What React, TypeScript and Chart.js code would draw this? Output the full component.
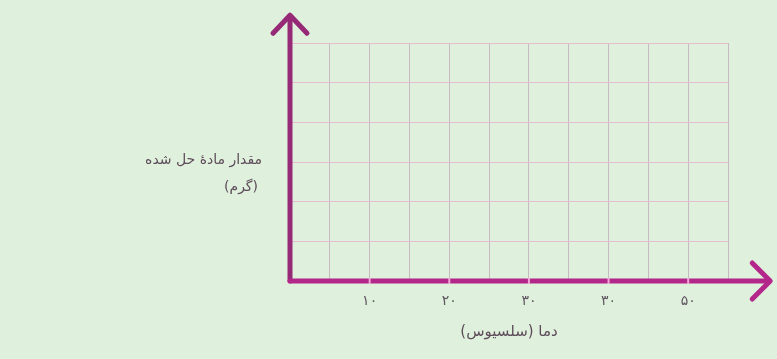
import React, { useEffect, useRef } from "react";
import { Chart, registerables } from "chart.js";

Chart.register(...registerables);

// ---- data ----
const xTickValues = [10, 20, 30, 40, 50];
const xTickLabels = ["۱۰", "۲۰", "۳۰", "۳۰", "۵۰"];
const xMin = 0;
const xMax = 55;
const xStep = 5;
const yMin = 0;
const yMax = 6;
const yStep = 1;
const xTitle = "دما (سلسیوس)";
const yTitleLines = ["مقدار مادهٔ حل شده", "(گرم)"];
const xArrowTip = 60.3;
const yArrowTip = 6.7;

const BG = "#dff0dc";
const FONT = "'DejaVu Sans', sans-serif";

const axesPlugin = {
  id: "arrowAxes",
  afterDraw(chart: any) {
    const { ctx, scales } = chart;
    const xs = scales.x;
    const ys = scales.y;
    const x0 = xs.getPixelForValue(xMin);
    const y0 = ys.getPixelForValue(yMin);
    const xt = xs.getPixelForValue(xArrowTip);
    const yt = ys.getPixelForValue(yArrowTip);
    ctx.save();
    ctx.lineCap = "round";
    ctx.lineJoin = "round";
    ctx.lineWidth = 5;
    // y axis
    ctx.strokeStyle = "#962a76";
    ctx.beginPath();
    ctx.moveTo(x0, y0);
    ctx.lineTo(x0, yt + 1);
    ctx.stroke();
    ctx.beginPath();
    ctx.moveTo(x0 - 17, yt + 18);
    ctx.lineTo(x0, yt);
    ctx.lineTo(x0 + 17, yt + 18);
    ctx.stroke();
    // x axis
    ctx.strokeStyle = "#b3278a";
    ctx.beginPath();
    ctx.moveTo(x0, y0);
    ctx.lineTo(xt - 1, y0);
    ctx.stroke();
    ctx.beginPath();
    ctx.moveTo(xt - 18, y0 - 18);
    ctx.lineTo(xt, y0);
    ctx.lineTo(xt - 18, y0 + 18);
    ctx.stroke();
    // tick marks
    ctx.lineCap = "butt";
    ctx.lineWidth = 2;
    ctx.strokeStyle = "#f3a9d6";
    for (const v of xTickValues) {
      const px = xs.getPixelForValue(v);
      ctx.beginPath();
      ctx.moveTo(px, y0 - 3);
      ctx.lineTo(px, y0 + 3);
      ctx.stroke();
    }
    // y title (horizontal, right aligned)
    ctx.fillStyle = "#5e4c5a";
    ctx.font = `14px ${FONT}`;
    ctx.textAlign = "right";
    ctx.textBaseline = "middle";
    ctx.direction = "rtl";
    ctx.fillText(yTitleLines[0], 262, 160);
    ctx.fillText(yTitleLines[1], 258, 187);
    ctx.restore();
  },
};

export default function App() {
  const ref = useRef<HTMLCanvasElement | null>(null);
  useEffect(() => {
    if (!ref.current) return;
    const chart = new Chart(ref.current, {
      type: "scatter",
      data: { datasets: [{ data: [], showLine: false }] },
      options: {
        animation: false,
        responsive: false,
        layout: { padding: { left: 290, right: 49, top: 43, bottom: 0 } },
        plugins: { legend: { display: false }, tooltip: { enabled: false } },
        scales: {
          x: {
            type: "linear",
            min: xMin,
            max: xMax,
            afterFit: (s: any) => {
              s.height = 78;
            },
            border: { display: false },
            grid: { color: "#c8bac2", lineWidth: 1, drawTicks: false },
            ticks: {
              stepSize: xStep,
              padding: 12,
              color: "#5f5560",
              font: { family: FONT, size: 14 },
              maxRotation: 0,
              autoSkip: false,
              callback: (v: any) => {
                const i = xTickValues.indexOf(Number(v));
                return i >= 0 ? xTickLabels[i] : "";
              },
            },
            title: {
              display: true,
              text: xTitle,
              color: "#5e4c5a",
              font: { family: FONT, size: 15 },
              padding: { top: 0, bottom: 18 },
            },
          },
          y: {
            type: "linear",
            min: yMin,
            max: yMax,
            afterFit: (s: any) => {
              s.width = 0;
            },
            border: { display: false },
            grid: { color: "#e4bdd0", lineWidth: 1, drawTicks: false },
            ticks: { display: false, stepSize: yStep },
          },
        },
      },
      plugins: [axesPlugin],
    });
    return () => chart.destroy();
  }, []);
  return (
    <div
      style={{
        position: "absolute",
        left: 0,
        top: 0,
        width: 777,
        height: 359,
        background: BG,
      }}
    >
      <canvas ref={ref} width={777} height={359} style={{ display: "block" }} />
    </div>
  );
}
